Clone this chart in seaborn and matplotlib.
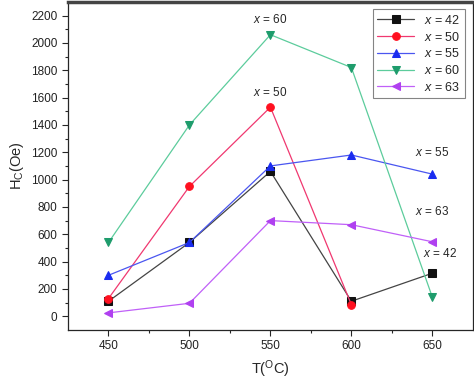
import numpy as np
import pandas as pd
import matplotlib
matplotlib.use("Agg")
import matplotlib.pyplot as plt
import seaborn as sns

temps = [450, 500, 550, 600, 650]
hc_42 = [110, 540, 1060, 110, 315]
hc_50 = [130, 950, 1530, 85, np.nan]
hc_55 = [300, 540, 1100, 1180, 1040]
hc_60 = [540, 1400, 2060, 1820, 140]
hc_63 = [25, 95, 700, 670, 545]

series = ["42", "50", "55", "60", "63"]
colors = {"42": "#111111", "50": "#ff1020", "55": "#1a2cf0", "60": "#1e9c6c", "63": "#b040f0"}
line_colors = {"42": "#444444", "50": "#f03870", "55": "#4a56f0", "60": "#5ccc9c", "63": "#c060f8"}
markers = {"42": "s", "50": "o", "55": "^", "60": "v", "63": "<"}

rows = []
for name, vals in zip(series, [hc_42, hc_50, hc_55, hc_60, hc_63]):
    for t, v in zip(temps, vals):
        rows.append({"T": t, "Hc": v, "x": name})
df = pd.DataFrame(rows).dropna()

sns.set_style("ticks")
plt.rcParams["font.family"] = ["Liberation Sans", "DejaVu Sans"]
plt.rcParams["mathtext.fontset"] = "custom"
plt.rcParams["mathtext.it"] = "Liberation Sans:italic"
plt.rcParams["mathtext.rm"] = "Liberation Sans"

fig = plt.figure(figsize=(4.74, 3.81), dpi=100)
ax = fig.add_axes([0.1435, 0.134, 0.854, 0.861])

for name in series:
    sub = df[df["x"] == name]
    sns.lineplot(data=sub, x="T", y="Hc", ax=ax, color=line_colors[name], lw=0.9,
                 marker=markers[name], markersize=5.5, markerfacecolor=colors[name],
                 markeredgecolor=colors[name], label=f"$x$ = {name}")

ax.set_xlim(425, 675)
ax.set_ylim(-100, 2300)
ax.set_xticks(temps)
ax.set_xticks([475, 525, 575, 625], minor=True)
ax.set_yticks(range(0, 2201, 200))
ax.set_yticks(range(100, 2300, 200), minor=True)
ax.tick_params(labelsize=8.5, length=4, width=0.8, labelcolor="#222222")
ax.tick_params(which="minor", length=2.5, width=0.8)
for s in ["left", "bottom", "right"]:
    ax.spines[s].set_linewidth(0.9)
ax.spines["top"].set_linewidth(2.5)
ax.spines["top"].set_color("#444444")

ax.set_xlabel("T($^{\\mathrm{O}}$C)", fontsize=10.5)
ax.set_ylabel("H$_\\mathrm{C}$(Oe)", fontsize=10.5)

ann = [("60", 550, 2170), ("50", 550, 1640), ("55", 650, 1200), ("63", 650, 770), ("42", 655, 460)]
for name, tx, ty in ann:
    ax.text(tx, ty, f"$x$ = {name}", fontsize=8.5, ha="center", va="center")

leg = ax.legend(loc="upper right", fontsize=9, frameon=True, fancybox=False,
                edgecolor="#666666", handlelength=3, borderpad=0.35, labelspacing=0.3,
                borderaxespad=0.6)
leg.get_frame().set_linewidth(0.8)

fig.savefig("out.png", dpi=100)
